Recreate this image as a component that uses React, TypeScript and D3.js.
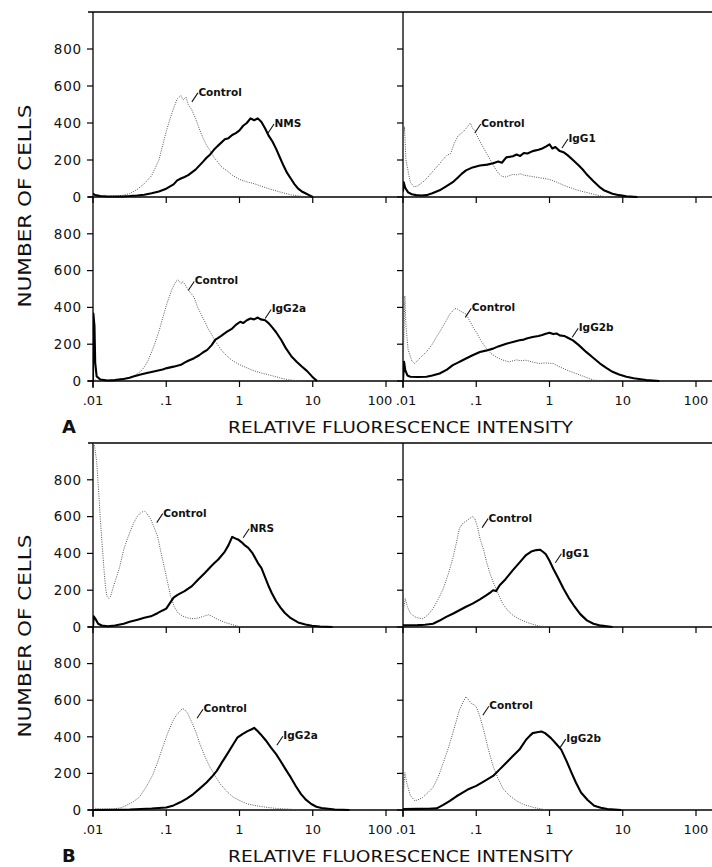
import * as d3 from 'd3'

// log10(intensity), number of cells
const aNmsCtrl = [[-2,15],[-1.97,8],[-1.9,4],[-1.8,3],[-1.7,5],[-1.6,9],[-1.5,18],[-1.4,40],[-1.3,72],[-1.2,115],[-1.1,200],[-1.0,355],[-0.95,420],[-0.9,480],[-0.85,530],[-0.8,548],[-0.77,525],[-0.73,540],[-0.7,500],[-0.65,470],[-0.6,425],[-0.55,370],[-0.5,320],[-0.45,280],[-0.4,250],[-0.35,215],[-0.3,190],[-0.25,165],[-0.2,150],[-0.15,135],[-0.1,118],[0,95],[0.1,82],[0.2,72],[0.3,58],[0.4,45],[0.5,33],[0.6,22],[0.7,12],[0.8,6],[0.9,2],[1.0,0]]
const aNms = [[-2,18],[-1.97,10],[-1.9,5],[-1.8,3],[-1.6,3],[-1.5,5],[-1.4,8],[-1.3,12],[-1.2,20],[-1.1,30],[-1.0,45],[-0.9,68],[-0.85,90],[-0.8,100],[-0.75,108],[-0.7,118],[-0.6,148],[-0.5,190],[-0.45,212],[-0.4,230],[-0.35,255],[-0.3,275],[-0.2,312],[-0.15,318],[-0.1,335],[-0.05,345],[0,360],[0.05,385],[0.1,400],[0.15,425],[0.2,415],[0.25,425],[0.3,405],[0.35,370],[0.4,330],[0.45,300],[0.5,260],[0.55,215],[0.6,170],[0.65,130],[0.7,100],[0.75,70],[0.8,45],[0.85,30],[0.9,20],[0.95,10],[1.0,0]]

const aIgG1Ctrl = [[-2,300],[-1.98,380],[-1.96,200],[-1.93,140],[-1.9,80],[-1.85,55],[-1.8,60],[-1.75,75],[-1.7,90],[-1.6,135],[-1.5,180],[-1.45,205],[-1.4,225],[-1.35,235],[-1.3,290],[-1.25,330],[-1.2,345],[-1.15,365],[-1.1,390],[-1.08,400],[-1.05,370],[-1.02,362],[-1.0,340],[-0.95,300],[-0.9,265],[-0.85,230],[-0.8,195],[-0.75,160],[-0.7,130],[-0.65,112],[-0.6,108],[-0.55,115],[-0.5,122],[-0.45,120],[-0.4,126],[-0.35,118],[-0.3,115],[-0.2,108],[-0.1,102],[0,95],[0.1,80],[0.2,62],[0.3,48],[0.4,35],[0.5,25],[0.6,15],[0.7,6],[0.8,0]]
const aIgG1 = [[-2,30],[-1.99,80],[-1.97,50],[-1.93,25],[-1.88,15],[-1.82,10],[-1.75,8],[-1.68,10],[-1.6,20],[-1.5,36],[-1.4,60],[-1.32,80],[-1.25,105],[-1.2,125],[-1.14,144],[-1.05,160],[-0.95,170],[-0.85,175],[-0.77,182],[-0.7,192],[-0.65,185],[-0.59,214],[-0.5,220],[-0.45,230],[-0.4,222],[-0.35,238],[-0.3,235],[-0.23,248],[-0.15,255],[-0.1,262],[-0.05,272],[0,285],[0.04,262],[0.08,270],[0.14,248],[0.2,240],[0.25,225],[0.32,200],[0.4,170],[0.45,150],[0.5,126],[0.55,105],[0.6,85],[0.68,55],[0.75,35],[0.86,18],[0.95,10],[1.05,4],[1.2,0]]

const aIgG2aCtrl = [[-2,8],[-1.95,4],[-1.8,3],[-1.6,8],[-1.45,25],[-1.35,52],[-1.3,75],[-1.25,110],[-1.17,187],[-1.1,270],[-1.05,340],[-0.99,422],[-0.92,500],[-0.87,540],[-0.84,550],[-0.8,530],[-0.77,540],[-0.73,515],[-0.7,495],[-0.65,470],[-0.62,455],[-0.57,400],[-0.53,367],[-0.47,320],[-0.43,285],[-0.39,260],[-0.33,215],[-0.25,170],[-0.17,135],[-0.1,112],[-0.03,95],[0.05,80],[0.11,70],[0.2,55],[0.3,43],[0.4,33],[0.48,25],[0.58,14],[0.67,7],[0.75,3],[0.85,0]]
const aIgG2a = [[-2,0],[-1.995,367],[-1.98,300],[-1.97,100],[-1.95,25],[-1.9,8],[-1.8,3],[-1.7,5],[-1.6,10],[-1.5,18],[-1.45,25],[-1.35,35],[-1.25,45],[-1.17,52],[-1.05,62],[-0.99,70],[-0.9,78],[-0.8,88],[-0.75,100],[-0.7,110],[-0.62,124],[-0.55,140],[-0.5,155],[-0.44,169],[-0.38,195],[-0.33,225],[-0.3,232],[-0.25,245],[-0.17,268],[-0.1,285],[-0.05,305],[0.01,322],[0.05,315],[0.1,330],[0.15,340],[0.2,335],[0.25,345],[0.29,335],[0.35,330],[0.4,313],[0.45,290],[0.5,265],[0.57,223],[0.63,180],[0.71,133],[0.78,105],[0.85,79],[0.92,55],[0.99,25],[1.03,10],[1.06,0]]

const aIgG2bCtrl = [[-2,0],[-1.99,200],[-1.975,462],[-1.96,300],[-1.93,170],[-1.88,110],[-1.84,95],[-1.78,120],[-1.73,140],[-1.68,158],[-1.6,200],[-1.55,235],[-1.5,266],[-1.45,300],[-1.4,335],[-1.36,364],[-1.3,390],[-1.27,396],[-1.22,380],[-1.18,372],[-1.14,364],[-1.08,320],[-1.04,290],[-1.0,266],[-0.93,215],[-0.86,176],[-0.8,150],[-0.73,131],[-0.65,115],[-0.55,104],[-0.45,115],[-0.4,110],[-0.32,113],[-0.25,105],[-0.14,95],[-0.05,98],[0.05,95],[0.15,75],[0.24,59],[0.33,45],[0.42,32],[0.5,20],[0.6,5],[0.7,2],[0.77,0]]
const aIgG2b = [[-2,0],[-1.985,104],[-1.97,60],[-1.94,30],[-1.9,23],[-1.8,22],[-1.68,23],[-1.6,30],[-1.5,41],[-1.4,62],[-1.32,86],[-1.25,100],[-1.2,110],[-1.14,122],[-1.05,140],[-0.95,158],[-0.87,165],[-0.77,176],[-0.7,188],[-0.59,203],[-0.5,212],[-0.41,221],[-0.35,225],[-0.3,232],[-0.23,239],[-0.15,245],[-0.1,250],[-0.05,257],[0,262],[0.05,255],[0.1,258],[0.14,248],[0.2,245],[0.25,235],[0.32,221],[0.4,195],[0.5,158],[0.6,125],[0.69,95],[0.78,70],[0.86,50],[0.95,35],[1.05,23],[1.15,15],[1.32,5],[1.5,0]]

const bNrsCtrl = [[-1.985,1000],[-1.95,900],[-1.92,720],[-1.9,585],[-1.87,420],[-1.85,313],[-1.83,220],[-1.81,167],[-1.78,155],[-1.76,167],[-1.72,220],[-1.69,258],[-1.64,320],[-1.58,422],[-1.53,480],[-1.48,531],[-1.44,570],[-1.39,604],[-1.35,620],[-1.3,631],[-1.26,615],[-1.21,585],[-1.17,545],[-1.12,495],[-1.08,420],[-1.03,331],[-0.98,240],[-0.94,167],[-0.89,110],[-0.84,76],[-0.77,58],[-0.7,49],[-0.63,45],[-0.56,49],[-0.49,58],[-0.42,67],[-0.36,55],[-0.29,40],[-0.2,25],[-0.1,13],[0.02,0]]
const bNrs = [[-2,0],[-1.99,58],[-1.96,40],[-1.93,18],[-1.88,8],[-1.8,4],[-1.7,8],[-1.58,18],[-1.5,28],[-1.39,40],[-1.3,50],[-1.21,58],[-1.12,75],[-1.05,90],[-1.0,100],[-0.95,130],[-0.9,160],[-0.84,176],[-0.75,195],[-0.65,222],[-0.56,260],[-0.47,295],[-0.4,325],[-0.35,345],[-0.29,367],[-0.2,410],[-0.15,445],[-0.1,490],[-0.05,480],[-0.02,476],[0.03,460],[0.07,445],[0.12,430],[0.18,400],[0.25,349],[0.3,320],[0.35,270],[0.4,220],[0.44,185],[0.5,140],[0.56,105],[0.62,76],[0.7,48],[0.8,25],[0.9,14],[0.99,7],[1.1,3],[1.27,0]]

const bIgG1Ctrl = [[-2,0],[-1.99,100],[-1.97,155],[-1.94,110],[-1.9,75],[-1.84,55],[-1.78,48],[-1.73,45],[-1.66,65],[-1.59,100],[-1.52,150],[-1.45,209],[-1.38,290],[-1.32,373],[-1.27,460],[-1.23,536],[-1.18,565],[-1.12,580],[-1.09,590],[-1.05,600],[-1.02,590],[-0.98,540],[-0.95,482],[-0.9,420],[-0.86,355],[-0.82,300],[-0.77,245],[-0.7,180],[-0.64,127],[-0.57,90],[-0.5,64],[-0.41,42],[-0.32,27],[-0.23,15],[-0.14,5],[0.01,0]]
const bIgG1 = [[-2,9],[-1.8,10],[-1.7,12],[-1.59,18],[-1.5,35],[-1.41,55],[-1.32,72],[-1.23,91],[-1.14,110],[-1.05,127],[-0.95,150],[-0.86,173],[-0.8,190],[-0.77,200],[-0.73,195],[-0.68,227],[-0.6,260],[-0.5,309],[-0.41,350],[-0.32,391],[-0.25,410],[-0.18,418],[-0.13,420],[-0.09,409],[-0.05,395],[0,360],[0.05,318],[0.12,265],[0.19,209],[0.26,160],[0.33,118],[0.42,70],[0.51,36],[0.6,18],[0.68,9],[0.86,0]]

const bIgG2aCtrl = [[-2,11],[-1.9,6],[-1.74,5],[-1.62,12],[-1.55,24],[-1.45,45],[-1.37,69],[-1.3,110],[-1.24,150],[-1.18,196],[-1.11,270],[-1.05,341],[-0.98,420],[-0.91,486],[-0.86,520],[-0.81,540],[-0.78,555],[-0.75,549],[-0.71,530],[-0.68,504],[-0.64,470],[-0.59,420],[-0.54,359],[-0.47,290],[-0.4,232],[-0.33,185],[-0.26,141],[-0.17,100],[-0.08,69],[0.02,48],[0.11,33],[0.25,22],[0.38,14],[0.52,8],[0.66,5],[0.84,0]]
const bIgG2a = [[-2,0],[-1.5,3],[-1.2,8],[-1.0,14],[-0.9,25],[-0.81,42],[-0.72,62],[-0.63,87],[-0.54,118],[-0.45,150],[-0.38,180],[-0.31,214],[-0.24,260],[-0.17,304],[-0.1,350],[-0.03,395],[0.04,415],[0.11,431],[0.16,440],[0.2,449],[0.25,430],[0.29,413],[0.36,380],[0.43,341],[0.5,305],[0.56,268],[0.63,222],[0.7,178],[0.77,130],[0.84,87],[0.91,55],[0.98,33],[1.05,18],[1.12,11],[1.3,3],[1.5,0]]

const bIgG2bCtrl = [[-2,0],[-1.99,120],[-1.975,204],[-1.95,150],[-1.9,80],[-1.84,50],[-1.78,58],[-1.73,69],[-1.66,95],[-1.59,123],[-1.52,180],[-1.45,258],[-1.38,340],[-1.32,420],[-1.27,490],[-1.23,547],[-1.18,590],[-1.14,619],[-1.1,600],[-1.07,583],[-1.03,575],[-1.0,565],[-0.95,510],[-0.9,439],[-0.84,340],[-0.77,240],[-0.7,170],[-0.63,114],[-0.55,80],[-0.45,50],[-0.35,30],[-0.22,14],[-0.1,5],[-0.04,0]]
const bIgG2b = [[-2,5],[-1.8,6],[-1.65,7],[-1.54,9],[-1.45,28],[-1.36,50],[-1.27,75],[-1.18,96],[-1.1,115],[-1.0,132],[-0.9,155],[-0.77,186],[-0.68,222],[-0.59,258],[-0.5,295],[-0.41,330],[-0.32,384],[-0.27,405],[-0.23,420],[-0.17,425],[-0.11,429],[-0.06,420],[0.02,393],[0.09,362],[0.16,330],[0.23,270],[0.3,204],[0.36,150],[0.43,96],[0.52,55],[0.61,23],[0.7,12],[0.79,5],[0.98,0]]

const xTicks = [0.01, 0.1, 1, 10, 100]
const xTickLabels = ['.01', '.1', '1', '10', '100']
const yTicks = [0, 200, 400, 600, 800]

// label anchors: [log10 intensity, cells] where the little leader line starts
const panels = [
  { fig: 0, row: 0, col: 0, ctrl: aNmsCtrl, stain: aNms, name: 'NMS', ctrlAt: [-0.65, 514], stainAt: [0.39, 346] },
  { fig: 0, row: 0, col: 1, ctrl: aIgG1Ctrl, stain: aIgG1, name: 'IgG1', ctrlAt: [-1.02, 346], stainAt: [0.17, 265] },
  { fig: 0, row: 1, col: 0, ctrl: aIgG2aCtrl, stain: aIgG2a, name: 'IgG2a', ctrlAt: [-0.7, 492], stainAt: [0.35, 340] },
  { fig: 0, row: 1, col: 1, ctrl: aIgG2bCtrl, stain: aIgG2b, name: 'IgG2b', ctrlAt: [-1.15, 346], stainAt: [0.31, 238] },
  { fig: 1, row: 0, col: 0, ctrl: bNrsCtrl, stain: bNrs, name: 'NRS', ctrlAt: [-1.13, 567], stainAt: [0.05, 485] },
  { fig: 1, row: 0, col: 1, ctrl: bIgG1Ctrl, stain: bIgG1, name: 'IgG1', ctrlAt: [-0.92, 540], stainAt: [0.08, 349] },
  { fig: 1, row: 1, col: 0, ctrl: bIgG2aCtrl, stain: bIgG2a, name: 'IgG2a', ctrlAt: [-0.58, 501], stainAt: [0.51, 354] },
  { fig: 1, row: 1, col: 1, ctrl: bIgG2bCtrl, stain: bIgG2b, name: 'IgG2b', ctrlAt: [-0.91, 518], stainAt: [0.14, 338] },
]

const W = 712, H = 867
const FIGS = [{ letter: 'A', top: 12, mid: 197, bottom: 381 }, { letter: 'B', top: 443, mid: 627, bottom: 810 }]
const COL_X = [93, 403]
const DECADE = 73.25
const FONT = '"DejaVu Sans", sans-serif'

function xScale(col) {
  return d3.scaleLog().domain([0.01, 100]).range([COL_X[col], COL_X[col] + 4 * DECADE])
}
function yScale(fig, row) {
  const f = FIGS[fig]
  return row === 0
    ? d3.scaleLinear().domain([0, 1000]).range([f.mid, f.top])
    : d3.scaleLinear().domain([0, 1000]).range([f.bottom, f.mid])
}

function Panel({ p, i }) {
  const x = xScale(p.col)
  const y = yScale(p.fig, p.row)
  const line = d3.line().x(d => x(Math.pow(10, d[0]))).y(d => y(d[1]))
  const [y0, y1] = y.range()
  const clipId = `clip${i}`
  const label = (text, at, bold) => {
    const lx = x(Math.pow(10, at[0])), ly = y(at[1])
    return (
      <g>
        <line x1={lx} y1={ly} x2={lx + 6} y2={ly - 9} stroke="#111" strokeWidth={1.1} />
        <text x={lx + 6.5} y={ly - 6} fontSize={10.5} fontWeight={bold ? 700 : 600} fill="#111" fontFamily={FONT}>{text}</text>
      </g>
    )
  }
  return (
    <g>
      <clipPath id={clipId}><rect x={COL_X[p.col]} y={y1} width={W - COL_X[p.col]} height={y0 - y1 + 1} /></clipPath>
      <g clipPath={`url(#${clipId})`}>
        <path d={line(p.ctrl)} fill="none" stroke="#555" strokeWidth={1} strokeDasharray="1 1.3" />
        <path d={line(p.stain)} fill="none" stroke="#000" strokeWidth={2.1} strokeLinejoin="round" />
      </g>
      {/* y ticks */}
      {yTicks.map(t => (
        <line key={t} x1={COL_X[p.col] - 6} x2={COL_X[p.col]} y1={y(t)} y2={y(t)} stroke="#000" strokeWidth={1.2} />
      ))}
      {p.col === 0 && yTicks.map(t => (
        <text key={'l' + t} x={82} y={y(t)} dy="0.36em" textAnchor="end" fontSize={13.5} fontFamily={FONT} letterSpacing={0.8} fill="#111">{t}</text>
      ))}
      {/* x ticks hang below the zero line */}
      {xTicks.map(t => (
        <line key={'x' + t} x1={x(t)} x2={x(t)} y1={y0} y2={y0 + 6} stroke="#000" strokeWidth={1.2} />
      ))}
      {label('Control', p.ctrlAt, false)}
      {label(p.name, p.stainAt, true)}
    </g>
  )
}

export default function App() {
  return (
    <svg width={W} height={H} style={{ position: 'absolute', left: 0, top: 0, background: '#fff' }}>
      <rect width={W} height={H} fill="#fff" />
      {FIGS.map((f, fi) => {
        const xl = xScale(0), xr = xScale(1)
        return (
          <g key={f.letter}>
            {/* frame: top border, shared zero lines, vertical axes */}
            <line x1={88} x2={W} y1={f.top} y2={f.top} stroke="#000" strokeWidth={1.3} />
            <line x1={88} x2={W} y1={f.mid} y2={f.mid} stroke="#000" strokeWidth={1.3} />
            <line x1={88} x2={W} y1={f.bottom} y2={f.bottom} stroke="#000" strokeWidth={1.3} />
            {COL_X.map(cx => (
              <line key={cx} x1={cx} x2={cx} y1={f.top} y2={f.bottom + 7} stroke="#000" strokeWidth={1.3} />
            ))}
            {xTicks.map((t, k) => (
              <text key={'a' + t} x={xl(t)} dx={k === 4 ? -6 : 0} y={f.bottom + 24} textAnchor="middle" fontSize={13} fontFamily={FONT} fill="#111">{xTickLabels[k]}</text>
            ))}
            {xTicks.map((t, k) => (
              <text key={'b' + t} x={xr(t)} dx={k === 0 ? 3 : 0} y={f.bottom + 24} textAnchor="middle" fontSize={13} fontFamily={FONT} fill="#111">{xTickLabels[k]}</text>
            ))}
            <text x={62} y={f.bottom + 52} fontSize={18} fontWeight={700} fontFamily={FONT} fill="#111">{f.letter}</text>
            <text x={228} y={f.bottom + 52} fontSize={16.5} fontFamily={FONT} fill="#111" textLength={345} lengthAdjust="spacingAndGlyphs">RELATIVE FLUORESCENCE INTENSITY</text>
            <text transform={`translate(31,${f.mid + 9}) rotate(-90)`} textAnchor="middle" fontSize={17} fontFamily={FONT} fill="#111" textLength={203} lengthAdjust="spacingAndGlyphs">NUMBER OF CELLS</text>
          </g>
        )
      })}
      {panels.map((p, i) => <Panel key={i} p={p} i={i} />)}
    </svg>
  )
}
